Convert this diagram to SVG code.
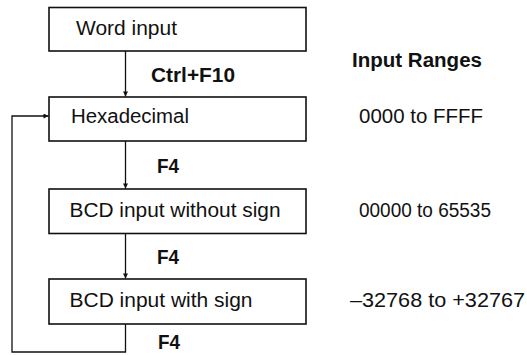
<svg xmlns="http://www.w3.org/2000/svg" width="527" height="355" viewBox="0 0 527 355">
<style>
.box{fill:#fff;stroke:#111;stroke-width:1.6}
.ln{fill:none;stroke:#111;stroke-width:1.3}
.t{font-family:"Liberation Sans",Arial,sans-serif;font-size:19.5px;fill:#111}
.b{font-weight:bold}
</style>
<defs>
<marker id="ah" viewBox="0 0 10 10" refX="10" refY="5" markerWidth="6" markerHeight="5" markerUnits="userSpaceOnUse" orient="auto">
<path d="M0,0 L10,5 L0,10 z" fill="#111"/>
</marker>
</defs>
<g id="connectors">
<line class="ln" x1="125.5" y1="51" x2="125.5" y2="96.5" marker-end="url(#ah)"/>
<line class="ln" x1="125.5" y1="141" x2="125.5" y2="188.5" marker-end="url(#ah)"/>
<line class="ln" x1="125.5" y1="233" x2="125.5" y2="278.5" marker-end="url(#ah)"/>
<polyline class="ln" points="125.5,324 125.5,352 12,352 12,116 48.5,116" marker-end="url(#ah)"/>
<text class="t b" x="151" y="82" textLength="84" lengthAdjust="spacingAndGlyphs">Ctrl+F10</text>
<text class="t b" x="157" y="173" textLength="22" lengthAdjust="spacingAndGlyphs">F4</text>
<text class="t b" x="157" y="264" textLength="22" lengthAdjust="spacingAndGlyphs">F4</text>
<text class="t b" x="158" y="349" textLength="22" lengthAdjust="spacingAndGlyphs">F4</text>
</g>
<g id="word">
<rect class="box" x="49" y="7.5" width="257" height="43.5"/>
<text class="t" x="76" y="35" textLength="101" lengthAdjust="spacingAndGlyphs">Word input</text>
</g>
<g id="hex">
<rect class="box" x="49" y="97" width="257" height="44"/>
<text class="t" x="71" y="123" textLength="118" lengthAdjust="spacingAndGlyphs">Hexadecimal</text>
</g>
<g id="bcd">
<rect class="box" x="49" y="189" width="257" height="44.5"/>
<text class="t" x="69.5" y="217" textLength="211" lengthAdjust="spacingAndGlyphs">BCD input without sign</text>
</g>
<g id="bcdsign">
<rect class="box" x="49" y="279" width="257" height="45"/>
<text class="t" x="69.5" y="307" textLength="183" lengthAdjust="spacingAndGlyphs">BCD input with sign</text>
</g>
<g id="ranges">
<text class="t b" x="352" y="67" textLength="130" lengthAdjust="spacingAndGlyphs">Input Ranges</text>
<text class="t" x="359" y="123" textLength="124" lengthAdjust="spacingAndGlyphs">0000 to FFFF</text>
<text class="t" x="359" y="217" textLength="132" lengthAdjust="spacingAndGlyphs">00000 to 65535</text>
<text class="t" x="350" y="307" textLength="175" lengthAdjust="spacingAndGlyphs">–32768 to +32767</text>
</g>
</svg>
